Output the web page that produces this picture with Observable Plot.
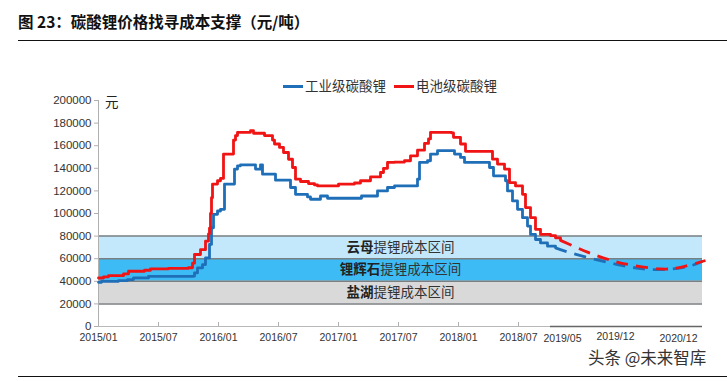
<!DOCTYPE html>
<html><head><meta charset="utf-8">
<script src="https://cdn.jsdelivr.net/npm/d3@7"></script>
<script src="https://cdn.jsdelivr.net/npm/@observablehq/plot@0.6"></script>
<style>
body{margin:0;background:#fff;}
#wrap{position:relative;width:727px;height:381px;overflow:hidden;font-family:"Noto Sans CJK SC","Noto Sans",sans-serif;background:#fff;}
#chart{position:absolute;left:0;top:0;}
.title{position:absolute;left:18px;top:12px;font-size:15.5px;line-height:18px;font-weight:bold;color:#111;white-space:nowrap;}
.hr{position:absolute;left:18px;right:0;height:1.5px;background:#111;}
.leg{position:absolute;top:76px;font-size:13.5px;line-height:18px;color:#333;white-space:nowrap;}
.sw{display:inline-block;width:20px;height:3px;vertical-align:middle;margin-right:2px;position:relative;top:-1px;}
.unit{position:absolute;left:105px;top:92px;font-size:13.5px;line-height:18px;color:#222;}
.wm{position:absolute;left:588px;top:347px;font-size:16.5px;line-height:20px;color:#333;white-space:nowrap;}
</style></head>
<body><div id="wrap">
<div class="title">图 23：碳酸锂价格找寻成本支撑（元/吨）</div>
<div class="hr" style="top:39.5px"></div>
<div class="unit">元</div>
<div class="wm">头条 @未来智库</div>
<div class="hr" style="top:375.5px"></div>
<div id="chart"></div>
</div>
<script>
// ---- data (x in months since 2015/01) ----
const seriesNames = ["工业级碳酸锂", "电池级碳酸锂"];
const seriesColors = ["#1f6fb8", "#f01414"];
const yTicks = [0, 20000, 40000, 60000, 80000, 100000, 120000, 140000, 160000, 180000, 200000];
const xTickMonths = [0, 6, 12, 18, 24, 30, 36, 42];
const xTickLabels = ["2015/01", "2015/07", "2016/01", "2016/07", "2017/01", "2017/07", "2018/01", "2018/07"];
const xExtraMonths = [46.4, 51.7, 58.0];
const xExtraLabels = ["2019/05", "2019/12", "2020/12"];
const bandLow = [60000, 40000, 20000];
const bandHigh = [80000, 60000, 40000];
const bandColors = ["#c4e8fb", "#3dbbf4", "#d9d9d9"];
const bandBold = ["云母", "锂辉石", "盐湖"];
const bandRest = "提锂成本区间";

const industrialSolid = [
 [0,39100],[0.3,40000],[2.0,40600],[2.9,41500],[3.5,43000],[5.0,44400],[9.5,44500],[9.6,47400],[9.9,51800],
 [10.4,54800],[10.7,60700],[11.1,72600],[11.3,87400],[11.5,99300],[11.9,102200],[12.2,103700],[12.6,126000],
 [13.6,139300],[13.9,142200],[14.2,143100],[15.6,143100],[15.7,139300],[16.2,143100],[16.4,134800],[17.7,129500],
 [19.2,123000],[19.7,117000],[20.9,114700],[21.2,112600],[22.2,115500],[22.9,113500],[26.3,115500],[27.9,120000],
 [28.9,123000],[29.6,124400],[31.9,130400],[32.1,145200],[32.9,146700],[33.2,152600],[33.9,155600],[35.6,152600],
 [36.2,149600],[36.6,145200],[38.8,145200],[39.1,140700],[39.5,133300],[40.7,129000],[40.9,120000],[41.4,111100],
 [41.9,103700],[42.4,96300],[42.9,88900],[43.2,81500],[43.7,77000],[44.2,74000],[44.9,71100],[45.7,69600]
];
const industrialForecast = [
 [45.7,69600],[47.2,65200],[49.5,59800],[51.9,54800],[54.2,51300],[56.5,50400],[58.9,53000],[60.4,57800]
];
const batterySolid = [
 [0,42900],[0.5,44000],[1,45000],[2.5,46500],[3,48900],[4.6,49800],[5.2,51000],[7,51500],[9,52000],[9.4,56000],
 [9.6,63700],[10.2,68000],[10.7,75500],[11.0,82000],[11.1,87000],[11.2,100000],[11.3,114000],[11.4,126000],
 [11.9,129000],[12.2,131000],[12.5,152600],[13.3,152600],[13.5,165000],[13.7,169000],[13.9,171800],[15.2,173300],
 [15.5,171000],[16.6,169000],[17.4,165000],[17.6,161500],[18.1,158500],[18.5,154000],[19.0,148000],[19.4,140700],
 [19.7,130400],[20.2,128300],[21.0,126500],[21.6,125300],[21.9,124400],[24.0,126000],[25.6,127000],[26.2,129000],
 [27.2,132400],[28.2,136300],[28.5,140000],[28.9,145200],[29.6,145500],[30.6,146700],[31.2,151000],[31.9,156000],
 [32.6,162000],[33.0,166000],[33.2,171800],[35.3,171300],[35.5,167400],[36.2,161500],[36.7,155000],[39.0,155000],
 [39.4,148100],[39.9,143700],[40.6,139300],[41.1,127400],[41.7,124400],[42.4,117000],[42.7,105200],[43.2,96300],
 [43.7,86000],[44.2,81500],[45.2,80500],[45.7,78500],[46.2,76200]
];
const batteryForecast = [
 [46.2,76200],[48.9,65800],[51.2,58700],[53.5,54000],[56.2,51000],[58.2,52400],[60.7,58400]
];

// ---- build ----
const xMax = 60.4;
const bands = bandLow.map((lo, i) => ({lo, hi: bandHigh[i], color: bandColors[i], bold: bandBold[i]}));
const edges = Array.from(new Set([...bandLow, ...bandHigh]));
const labelCenter = 30.2, fs = 13.5, pxPerUnit = 10;
bands.forEach(b => {
  const n = b.bold.length + bandRest.length;
  const left = labelCenter - n * fs / 2 / pxPerUnit;
  b.split = left + b.bold.length * fs / pxPerUnit;
  b.mid = (b.lo + b.hi) / 2;
});
const extra = xExtraMonths.map((m, i) => ({m, label: xExtraLabels[i], dy: i === 1 ? 10 : 12}));

const chart = Plot.plot({
  width: 727, height: 381,
  marginLeft: 98, marginRight: 25, marginTop: 100, marginBottom: 55,
  x: {domain: [0, xMax]},
  y: {domain: [0, 200000]},
  style: {fontFamily: "'Liberation Sans', Arial, sans-serif", fontSize: "11px", color: "#333", background: "transparent", overflow: "visible"},
  marks: [
    Plot.rect(bands, {x1: () => 0, x2: () => xMax, y1: "lo", y2: "hi", fill: "color"}),
    Plot.ruleY(edges, {x1: 0, x2: xMax, stroke: "#7a7f82", strokeWidth: 1.5}),
    Plot.ruleX([0], {y1: 0, y2: 200000, stroke: "#b0b0b0", strokeWidth: 1}),
    Plot.ruleY([0], {x1: 0, x2: xMax, stroke: "#b8b8b8", strokeWidth: 1}),
    Plot.ruleY([0], {x1: 45.2, x2: xMax, stroke: "#666", strokeWidth: 1.5}),
    Plot.axisY({ticks: yTicks, tickSize: 4, tickPadding: 3, tickFormat: d3.format("d"), fontSize: 11.5, stroke: "#b0b0b0", fill: "#333"}),
    Plot.axisX({ticks: xTickMonths, tickFormat: (d, i) => xTickLabels[i], tickSize: 0, tickPadding: 7, fontSize: 10.5, fill: "#333"}),
    Plot.ruleX(xTickMonths, {y1: 0, y2: 3600, stroke: "#b0b0b0"}),
    Plot.text(extra.filter((d, i) => i !== 1), {x: "m", y: () => 0, text: "label", dy: 12, fontSize: 10.5, fill: "#333"}),
    Plot.text(extra.filter((d, i) => i === 1), {x: "m", y: () => 0, text: "label", dy: 10, fontSize: 10.5, fill: "#333"}),
    Plot.line(industrialSolid, {x: d => d[0], y: d => d[1], curve: "step-after", stroke: seriesColors[0], strokeWidth: 2.8}),
    Plot.line(industrialForecast, {x: d => d[0], y: d => d[1], curve: "natural", stroke: seriesColors[0], strokeWidth: 2.8, strokeDasharray: "12,8", strokeLinecap: "butt"}),
    Plot.line(batterySolid, {x: d => d[0], y: d => d[1], curve: "step-after", stroke: seriesColors[1], strokeWidth: 2.8}),
    Plot.line(batteryForecast, {x: d => d[0], y: d => d[1], curve: "natural", stroke: seriesColors[1], strokeWidth: 2.8, strokeDasharray: "12,8", strokeLinecap: "butt"}),
    Plot.text(bands, {x: "split", y: "mid", text: "bold", textAnchor: "end", fontWeight: "bold", fontSize: fs, fill: "#222", fontFamily: "'Noto Sans CJK SC', sans-serif"}),
    Plot.text(bands, {x: "split", y: "mid", text: () => bandRest, textAnchor: "start", fontSize: fs, fill: "#333", fontFamily: "'Noto Sans CJK SC', sans-serif"})
  ]
});
document.getElementById("chart").appendChild(chart);

// legend
const legLeft = [283, 394];
seriesNames.forEach((name, i) => {
  const d = document.createElement("div");
  d.className = "leg";
  d.style.left = legLeft[i] + "px";
  d.innerHTML = `<span class="sw" style="background:${seriesColors[i]}"></span>${name}`;
  document.getElementById("wrap").appendChild(d);
});
</script>
</body></html>
